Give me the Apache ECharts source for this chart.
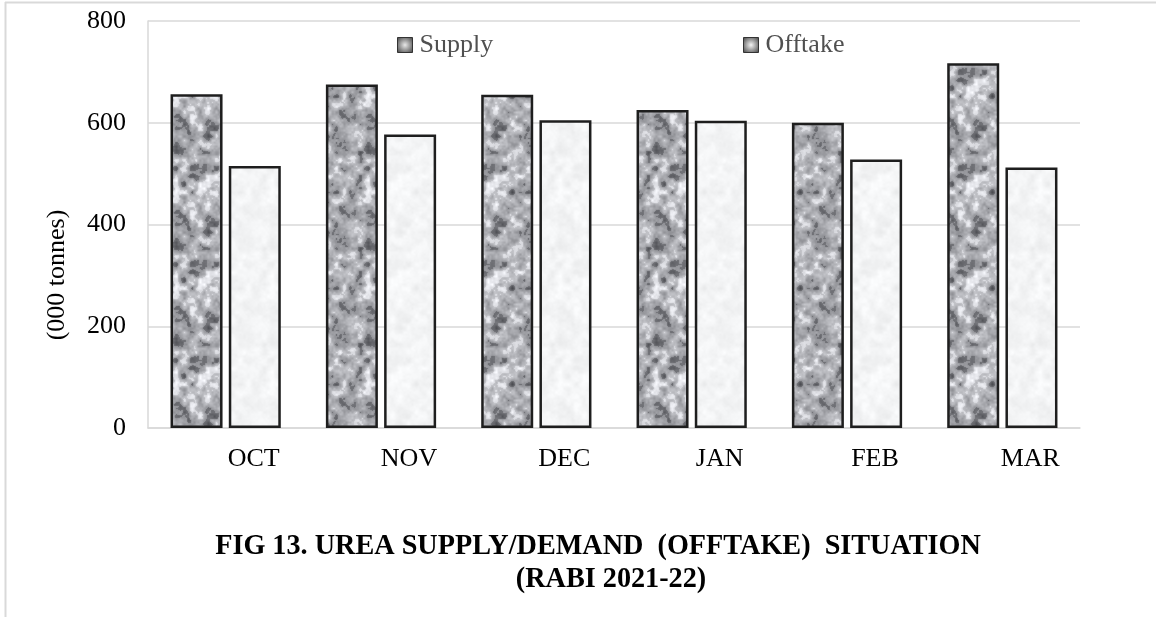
<!DOCTYPE html>
<html><head><meta charset="utf-8">
<script src="https://cdn.jsdelivr.net/npm/echarts@6/dist/echarts.min.js"></script>
<style>html,body{margin:0;padding:0;background:#fff}#c{width:1156px;height:617px}</style>
</head><body><div id="c"></div>
<script>
const categories = ['OCT', 'NOV', 'DEC', 'JAN', 'FEB', 'MAR'];
const supply = [656, 675, 655, 625, 600, 717];
const offtake = [515, 577, 605, 604, 528, 512];
const seriesNames = ['Supply', 'Offtake'];
const yMax = 800, yStep = 200;
const titleLines = ['FIG 13. UREA SUPPLY/DEMAND  (OFFTAKE)  SITUATION', '(RABI 2021-22)'];
const yName = '(000 tonnes)';

const FONT = '"Liberation Serif", "Times New Roman", serif';

// deterministic hash-based value noise for bar texture (decoration only)
function hash(ix, iy, s) {
  let h = (ix * 374761393 + iy * 668265263 + s * 982451653) | 0;
  h = (h ^ (h >>> 13)) * 1274126177 | 0;
  h = h ^ (h >>> 16);
  return ((h >>> 0) % 10000) / 10000;
}
function vnoise(x, y, cell, period, s) {
  const gx = x / cell, gy = y / cell;
  const x0 = Math.floor(gx), y0 = Math.floor(gy);
  const fx = gx - x0, fy = gy - y0;
  const sx = fx * fx * (3 - 2 * fx), sy = fy * fy * (3 - 2 * fy);
  const p = period;
  const m = (a) => ((a % p) + p) % p;
  const a = hash(m(x0), m(y0), s), b = hash(m(x0 + 1), m(y0), s);
  const c = hash(m(x0), m(y0 + 1), s), d = hash(m(x0 + 1), m(y0 + 1), s);
  return (a + (b - a) * sx) + ((c + (d - c) * sx) - (a + (b - a) * sx)) * sy;
}
function makeTexture(dark) {
  const N = 96, c = document.createElement('canvas');
  c.width = N; c.height = N;
  const ctx = c.getContext('2d');
  const img = ctx.createImageData(N, N);
  for (let y = 0; y < N; y++) {
    for (let x = 0; x < N; x++) {
      const n1 = vnoise(x, y, 8, N / 8, 1);
      const n2 = vnoise(x, y, 4, N / 4, 2);
      const n3 = vnoise(x, y, 2, N / 2, 3);
      const v = 0.55 * n1 + 0.3 * n2 + 0.15 * n3; // 0..1
      let g;
      if (dark) {
        g = 95 + 150 * v;
        if (v < 0.32) g -= 25;
        if (v > 0.68) g += 15;
      } else {
        g = 232 + 22 * v;
      }
      g = Math.max(60, Math.min(252, g));
      const i = (y * N + x) * 4;
      img.data[i] = g; img.data[i + 1] = g + 1; img.data[i + 2] = Math.min(255, g + (dark ? 6 : 2)); img.data[i + 3] = 255;
    }
  }
  ctx.putImageData(img, 0, 0);
  return c;
}

const texSupply = makeTexture(true);
const texOff = makeTexture(false);

const legendIcon = (center) => ({
  type: 'radial', x: 0.5, y: 0.5, r: 0.7,
  colorStops: [{offset: 0, color: center}, {offset: 1, color: '#3a3a3a'}]
});

const chart = echarts.init(document.getElementById('c'), null, {renderer: 'canvas'});
chart.setOption({
  animation: false,
  backgroundColor: '#ffffff',
  grid: {left: 148, right: 76, top: 21, bottom: 189, containLabel: false},
  legend: [
    {data: [{name: seriesNames[0], icon: 'rect', itemStyle: {color: legendIcon('#e8e8e8'), borderColor: '#333', borderWidth: 1}}],
     left: 392, top: 27, itemWidth: 15, itemHeight: 15,
     textStyle: {fontFamily: FONT, fontSize: 26, color: '#505050', padding: [0, 0, 0, 2]}},
    {data: [{name: seriesNames[1], icon: 'rect', itemStyle: {color: legendIcon('#f4f4f4'), borderColor: '#333', borderWidth: 1}}],
     left: 738, top: 27, itemWidth: 15, itemHeight: 15,
     textStyle: {fontFamily: FONT, fontSize: 26, color: '#505050', padding: [0, 0, 0, 2]}}
  ],
  xAxis: {
    type: 'category', data: categories,
    axisLine: {show: true, lineStyle: {color: '#d9d9d9', width: 1.5}},
    axisTick: {show: false},
    axisLabel: {fontFamily: FONT, fontSize: 26, color: '#000', margin: 18, padding: [0, 0, 0, 56]}
  },
  yAxis: {
    type: 'value', min: 0, max: yMax, interval: yStep,
    axisLine: {show: true, lineStyle: {color: '#d9d9d9', width: 1.5}},
    axisTick: {show: false},
    splitLine: {show: true, lineStyle: {color: '#d9d9d9', width: 1.5}},
    axisLabel: {fontFamily: FONT, fontSize: 26, color: '#000', margin: 22}
  },
  series: [
    {name: seriesNames[0], type: 'bar', data: supply, barWidth: 52, barGap: '12%',
     itemStyle: {color: {image: texSupply, repeat: 'repeat'}, borderColor: '#1e1e1e', borderWidth: 2.5}},
    {name: seriesNames[1], type: 'bar', data: offtake, barWidth: 52,
     itemStyle: {color: {image: texOff, repeat: 'repeat'}, borderColor: '#1e1e1e', borderWidth: 2.5}}
  ],
  graphic: [
    {type: 'line', shape: {x1: 5, y1: 2.5, x2: 1156, y2: 2.5}, style: {stroke: '#d9d9d9', lineWidth: 2}, silent: true},
    {type: 'line', shape: {x1: 5.5, y1: 2, x2: 5.5, y2: 617}, style: {stroke: '#d9d9d9', lineWidth: 2}, silent: true},
    {type: 'text', x: 57, y: 275, rotation: Math.PI / 2,
     style: {text: yName, font: '26px ' + FONT, fill: '#000', align: 'center', verticalAlign: 'middle'}},
    {type: 'text', x: 598, y: 546, scaleX: 0.94,
     style: {text: titleLines[0], font: 'bold 30px ' + FONT, fill: '#000', align: 'center', verticalAlign: 'middle'}},
    {type: 'text', x: 611, y: 579, scaleX: 0.94,
     style: {text: titleLines[1], font: 'bold 30px ' + FONT, fill: '#000', align: 'center', verticalAlign: 'middle'}}
  ]
});
</script>
</body></html>
